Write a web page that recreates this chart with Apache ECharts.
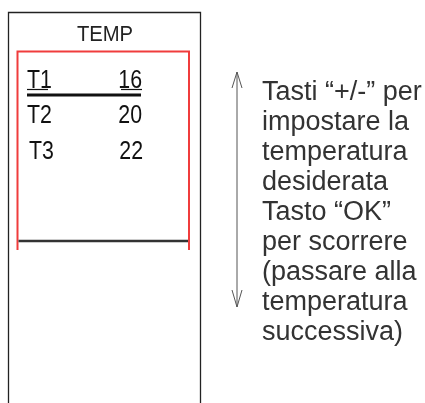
<!DOCTYPE html>
<html>
<head>
<meta charset="utf-8">
<script src="https://cdn.jsdelivr.net/npm/echarts@6/dist/echarts.min.js"></script>
<style>
html,body{margin:0;padding:0;background:#fff;}
#c{width:425px;height:403px;}
</style>
</head>
<body>
<div id="c"></div>
<script>
// ---- data ----
const displayTitle = 'TEMP';
const setpointNames = ['T1', 'T2', 'T3'];
const setpointTemps = [16, 20, 22];
const selectedIndex = 0;
const noteLines = [
  'Tasti \u201c+/-\u201d per',
  'impostare la',
  'temperatura',
  'desiderata',
  'Tasto \u201cOK\u201d',
  'per scorrere',
  '(passare alla',
  'temperatura',
  'successiva)'
];

const lcdFont = 'Liberation Sans, Arial, sans-serif';
const lcdScale = 0.82;

const chart = echarts.init(document.getElementById('c'), null, {renderer: 'canvas'});

const option = {
  backgroundColor: '#ffffff',
  animation: false,
  grid: {left: 27, right: 283, top: 61.75, height: 106.5},
  xAxis: {type: 'value', min: 0, max: 1, show: false},
  yAxis: {type: 'category', data: setpointNames, inverse: true, show: false},
  series: [{
    type: 'custom',
    coordinateSystem: 'cartesian2d',
    data: setpointNames.map((n, i) => [0, n, setpointTemps[i]]),
    encode: {x: 0, y: 1},
    renderItem: function (params, api) {
      const i = params.dataIndex;
      const yIdx = api.value(1);
      const L = api.coord([0, yIdx]);
      const R = api.coord([1, yIdx]);
      const children = [
        {type: 'text', x: L[0] + (i === 2 ? 2 : 0), y: L[1] + 1, scaleX: lcdScale,
          style: {text: setpointNames[i], x: 0, y: 0, fontSize: 26, fontFamily: lcdFont,
            fill: '#111', stroke: '#fff', lineWidth: 0.5,
            align: 'left', verticalAlign: 'middle'}},
        {type: 'text', x: R[0] + (i === 2 ? 1 : 0), y: R[1] + 1, scaleX: lcdScale,
          style: {text: String(api.value(2)), x: 0, y: 0, fontSize: 26, fontFamily: lcdFont,
            fill: '#111', stroke: '#fff', lineWidth: 0.5,
            align: 'right', verticalAlign: 'middle'}}
      ];
      if (i === selectedIndex) {
        children.push(
          {type: 'line', shape: {x1: L[0], y1: L[1] + 10, x2: L[0] + 21, y2: L[1] + 10},
            style: {stroke: '#111', lineWidth: 1.2}},
          {type: 'line', shape: {x1: R[0] - 21, y1: R[1] + 10, x2: R[0], y2: R[1] + 10},
            style: {stroke: '#111', lineWidth: 1.2}},
          {type: 'line', shape: {x1: L[0], y1: L[1] + 15.5, x2: R[0] - 1, y2: R[1] + 15.5},
            style: {stroke: '#111', lineWidth: 3}}
        );
      }
      return {type: 'group', children: children};
    }
  }],
  graphic: [
    // outer device frame
    {type: 'polyline', shape: {points: [[8.5, 403], [8.5, 12.5], [200.5, 12.5], [200.5, 403]]},
      style: {stroke: '#222', lineWidth: 1.3, fill: null}},
    // red display box
    {type: 'polyline', shape: {points: [[17.5, 250], [17.5, 51.5], [189, 51.5], [189, 250]]},
      style: {stroke: '#f03c3c', lineWidth: 2, fill: null}},
    // bottom display line
    {type: 'line', shape: {x1: 18.5, y1: 241, x2: 188, y2: 241},
      style: {stroke: '#333', lineWidth: 2.5}},
    // title
    {type: 'text', x: 105, y: 35, scaleX: 0.92,
      style: {text: displayTitle, x: 0, y: 0, fontSize: 22, fontFamily: lcdFont,
        fill: '#222', stroke: '#fff', lineWidth: 0.4, align: 'center', verticalAlign: 'middle'}},
    // double arrow
    {type: 'line', shape: {x1: 237, y1: 72, x2: 237, y2: 307},
      style: {stroke: '#555', lineWidth: 1}},
    {type: 'polyline', shape: {points: [[232, 88], [237, 72], [242, 88]]},
      style: {stroke: '#555', lineWidth: 1, fill: null}},
    {type: 'polyline', shape: {points: [[232, 290], [237, 307], [242, 290]]},
      style: {stroke: '#555', lineWidth: 1, fill: null}},
    // note text
    {type: 'text', x: 262, y: 78,
      style: {text: noteLines.join('\n'), x: 0, y: 0, fontSize: 27, lineHeight: 30,
        fontFamily: 'Liberation Sans, Arial, sans-serif', fill: '#333',
        stroke: '#fff', lineWidth: 0.6,
        align: 'left', verticalAlign: 'top'}}
  ]
};

chart.setOption(option);
</script>
</body>
</html>
